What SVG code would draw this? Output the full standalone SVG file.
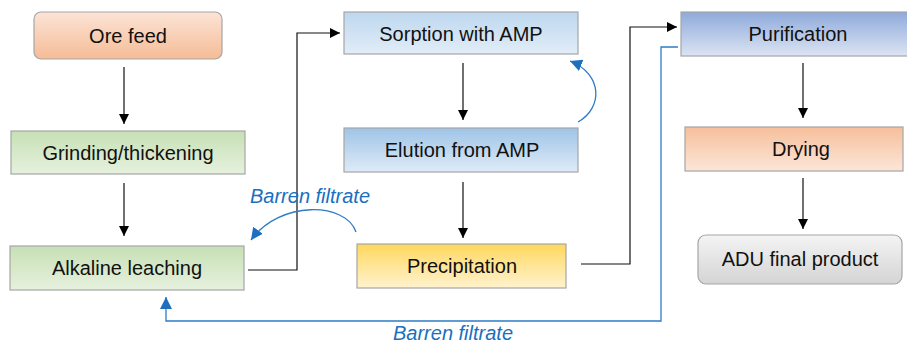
<svg xmlns="http://www.w3.org/2000/svg" width="907" height="344" viewBox="0 0 907 344">
  <defs>
    <linearGradient id="gOrangeUp" x1="0" y1="0" x2="0" y2="1">
      <stop offset="0" stop-color="#fce4d6"/>
      <stop offset="1" stop-color="#f5bc96"/>
    </linearGradient>
    <linearGradient id="gOrangeDown" x1="0" y1="0" x2="0" y2="1">
      <stop offset="0" stop-color="#f6bf9c"/>
      <stop offset="1" stop-color="#fce6d8"/>
    </linearGradient>
    <linearGradient id="gGreen" x1="0" y1="0" x2="0" y2="1">
      <stop offset="0" stop-color="#c6e0b4"/>
      <stop offset="1" stop-color="#e6f1de"/>
    </linearGradient>
    <linearGradient id="gBlueLight" x1="0" y1="0" x2="0" y2="1">
      <stop offset="0" stop-color="#bdd7ee"/>
      <stop offset="1" stop-color="#e2edf8"/>
    </linearGradient>
    <linearGradient id="gBlueMid" x1="0" y1="0" x2="0" y2="1">
      <stop offset="0" stop-color="#9fc4e7"/>
      <stop offset="1" stop-color="#deebf7"/>
    </linearGradient>
    <linearGradient id="gBlueDeep" x1="0" y1="0" x2="0" y2="1">
      <stop offset="0" stop-color="#8eaadb"/>
      <stop offset="1" stop-color="#dce4f3"/>
    </linearGradient>
    <linearGradient id="gYellow" x1="0" y1="0" x2="0" y2="1">
      <stop offset="0" stop-color="#ffd75e"/>
      <stop offset="1" stop-color="#fff3cf"/>
    </linearGradient>
    <linearGradient id="gGray" x1="0" y1="0" x2="0" y2="1">
      <stop offset="0" stop-color="#f4f4f4"/>
      <stop offset="1" stop-color="#d4d4d4"/>
    </linearGradient>
    <marker id="arrowBlack" viewBox="0 0 10 10" refX="10" refY="5" markerWidth="10" markerHeight="10" markerUnits="userSpaceOnUse" orient="auto">
      <path d="M0,0 L10,5 L0,10 Z" fill="#000"/>
    </marker>
    <marker id="arrowBlue" viewBox="0 0 10 10" refX="10" refY="5" markerWidth="12" markerHeight="12" markerUnits="userSpaceOnUse" orient="auto">
      <path d="M0,0 L10,5 L0,10 Z" fill="#1f6fbf"/>
    </marker>
  </defs>
  <style>
    .box { stroke: #a6a6a6; stroke-width: 1.2; }
    .label { font-family: "Liberation Sans", Arial, sans-serif; font-size: 20px; fill: #111; text-anchor: middle; }
    .note { font-family: "Liberation Sans", Arial, sans-serif; font-size: 20px; font-style: italic; fill: #1a6fc0; text-anchor: middle; }
    .flow { fill: none; stroke: #111; stroke-width: 1.2; }
    .recycle { fill: none; stroke: #2e7bc6; stroke-width: 1.3; }
  </style>

  <rect width="907" height="344" fill="#fff"/>

  <!-- process steps -->
  <g id="ore-feed">
    <rect class="box" x="34" y="12" width="188" height="47" rx="7" fill="url(#gOrangeUp)"/>
    <text class="label" x="128" y="43">Ore feed</text>
  </g>
  <g id="grinding">
    <rect class="box" x="11" y="131" width="234" height="43" fill="url(#gGreen)"/>
    <text class="label" x="128" y="160">Grinding/thickening</text>
  </g>
  <g id="leaching">
    <rect class="box" x="10" y="246" width="234" height="44" fill="url(#gGreen)"/>
    <text class="label" x="127" y="275">Alkaline leaching</text>
  </g>
  <g id="sorption">
    <rect class="box" x="344" y="12" width="234" height="42" fill="url(#gBlueLight)"/>
    <text class="label" x="461" y="41">Sorption with AMP</text>
  </g>
  <g id="elution">
    <rect class="box" x="344" y="128" width="234" height="44" fill="url(#gBlueMid)"/>
    <text class="label" x="462" y="157">Elution from AMP</text>
  </g>
  <g id="precipitation">
    <rect class="box" x="357" y="244" width="209" height="44" fill="url(#gYellow)"/>
    <text class="label" x="462" y="273">Precipitation</text>
  </g>
  <g id="purification">
    <rect class="box" x="681" y="12" width="234" height="44" fill="url(#gBlueDeep)"/>
    <text class="label" x="798" y="41">Purification</text>
  </g>
  <g id="drying">
    <rect class="box" x="685" y="127" width="218" height="44" fill="url(#gOrangeDown)"/>
    <text class="label" x="801" y="156">Drying</text>
  </g>
  <g id="adu-product">
    <rect class="box" x="698" y="235" width="204" height="49" rx="8" fill="url(#gGray)"/>
    <text class="label" x="800" y="266">ADU final product</text>
  </g>

  <!-- connectors -->
  <g id="connectors">
    <line class="flow" x1="124" y1="67" x2="124" y2="124" marker-end="url(#arrowBlack)"/>
    <line class="flow" x1="124" y1="183" x2="124" y2="236" marker-end="url(#arrowBlack)"/>
    <polyline class="flow" points="248,270 297,270 297,33 340,33" marker-end="url(#arrowBlack)"/>
    <line class="flow" x1="463" y1="63" x2="463" y2="120" marker-end="url(#arrowBlack)"/>
    <line class="flow" x1="463" y1="182" x2="463" y2="238" marker-end="url(#arrowBlack)"/>
    <polyline class="flow" points="581,264 630,264 630,27 677,27" marker-end="url(#arrowBlack)"/>
    <line class="flow" x1="803" y1="63" x2="803" y2="118" marker-end="url(#arrowBlack)"/>
    <line class="flow" x1="803" y1="178" x2="803" y2="229" marker-end="url(#arrowBlack)"/>

    <!-- recycle streams -->
    <path class="recycle" d="M578,122 C603,108 603,74 570,61" marker-end="url(#arrowBlue)"/>
    <path class="recycle" d="M356,232 C346,202 280,200 251,240" marker-end="url(#arrowBlue)"/>
    <polyline class="recycle" stroke="#5b9bd5" points="678,47 661,47 661,321 166,321 166,297" marker-end="url(#arrowBlue)"/>

    <text class="note" x="310" y="203">Barren filtrate</text>
    <text class="note" x="453" y="340">Barren filtrate</text>
  </g>
</svg>
